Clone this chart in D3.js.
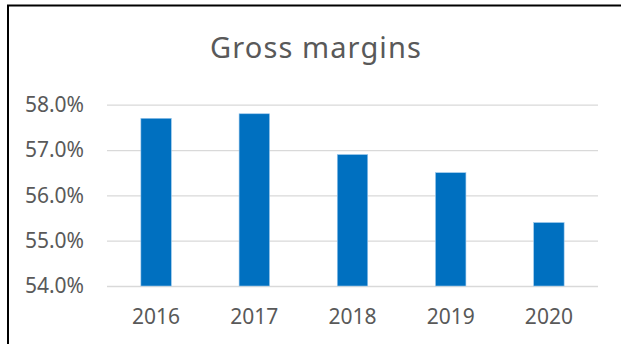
<!DOCTYPE html>
<html>
<head>
<meta charset="utf-8">
<script src="https://cdn.jsdelivr.net/npm/d3@7"></script>
<style>
  html, body { margin: 0; padding: 0; background: #fff; }
  svg { display: block; }
</style>
</head>
<body>
<svg id="chart" width="621" height="344"></svg>
<script>
// Gross margin by fiscal year (percent)
const years = ["2016", "2017", "2018", "2019", "2020"];
const margins = [57.7, 57.8, 56.9, 56.5, 55.4];
const yTicks = [54, 55, 56, 57, 58];
const chartTitle = "Gross margins";

const plot = { left: 107, right: 598, top: 104.7, bottom: 286 };
const font = "'Noto Sans', 'Open Sans', sans-serif";
const textColor = "#595959";

const svg = d3.select("#chart");

// outer frame (runs past the right and bottom edges of the view)
svg.append("rect")
  .attr("x", 8).attr("y", 5.5)
  .attr("width", 640).attr("height", 360)
  .attr("fill", "#fff")
  .attr("stroke", "#000")
  .attr("stroke-width", 2);

const x = d3.scaleBand()
  .domain(years)
  .range([plot.left, plot.right])
  .paddingInner(0.69)
  .paddingOuter(0.345);

const y = d3.scaleLinear()
  .domain([54, 58])
  .range([plot.bottom, plot.top]);

// value axis with gridlines
const yAxis = d3.axisLeft(y)
  .tickValues(yTicks)
  .tickSize(-(plot.right - plot.left))
  .tickPadding(23)
  .tickFormat(d => d3.format(".1f")(d) + "%");

const gy = svg.append("g")
  .attr("transform", `translate(${plot.left},0)`)
  .call(yAxis);
gy.select(".domain").remove();
gy.selectAll(".tick line")
  .attr("stroke", "#d9d9d9")
  .attr("stroke-width", 1.3);
gy.selectAll(".tick text")
  .attr("fill", textColor)
  .style("font-family", font)
  .style("font-size", "21px");

// bars
svg.append("g")
  .selectAll("rect")
  .data(years.map((yr, i) => ({ yr, v: margins[i] })))
  .join("rect")
  .attr("x", d => x(d.yr))
  .attr("y", d => y(d.v))
  .attr("width", x.bandwidth())
  .attr("height", d => y(54) - y(d.v))
  .attr("fill", "#0070c0")
  .attr("stroke", "#9cc8ec")
  .attr("stroke-width", 0.6);

// category axis
const xAxis = d3.axisBottom(x).tickSize(0).tickPadding(23);
const gx = svg.append("g")
  .attr("transform", `translate(0,${plot.bottom})`)
  .call(xAxis);
gx.select(".domain").remove();
gx.selectAll(".tick text")
  .attr("fill", textColor)
  .style("font-family", font)
  .style("font-size", "21px");

// title
svg.append("text")
  .attr("x", 316)
  .attr("y", 58)
  .attr("text-anchor", "middle")
  .attr("fill", textColor)
  .style("font-family", font)
  .style("font-size", "29px")
  .style("letter-spacing", "1.1px")
  .text(chartTitle);
</script>
</body>
</html>
